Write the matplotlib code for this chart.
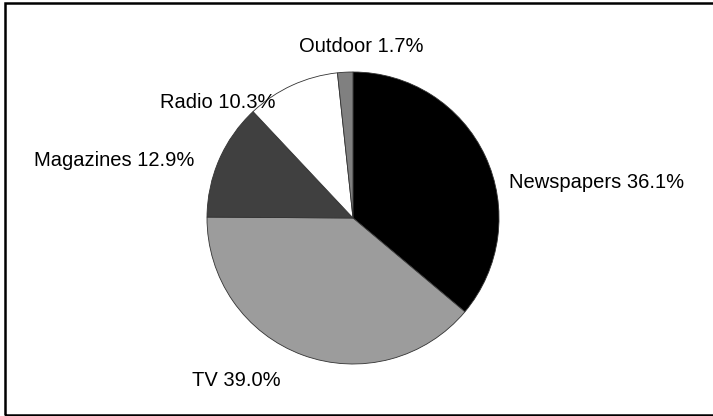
import matplotlib
matplotlib.use("Agg")
from matplotlib import pyplot as plt
from matplotlib.patches import Rectangle

plt.rcParams['font.family'] = ['Liberation Sans', 'DejaVu Sans']

media = ['Newspapers', 'TV', 'Magazines', 'Radio', 'Outdoor']
share = [36.1, 39.0, 12.9, 10.3, 1.7]
colors = ['#000000', '#9c9c9c', '#404040', '#ffffff', '#808080']

# where each label's left edge / vertical centre sits (pie radius = 1)
label_xy = [(1.068, 0.240), (-1.103, -1.110), (-2.185, 0.397),
            (-1.322, 0.788), (-0.370, 1.178)]

fig = plt.figure(figsize=(7.13, 4.16), dpi=100)
ax = fig.add_axes([0, 0, 1, 1])

ax.pie(share, colors=colors, startangle=90, counterclock=False,
       radius=1.0, wedgeprops=dict(edgecolor='#333333', linewidth=0.6))

for name, val, (x, y) in zip(media, share, label_xy):
    ax.text(x, y, f"{name} {val:.1f}%", ha='left', va='center',
            fontsize=14.5, color='black')

ax.set_xlim(-353 / 146, (713 - 353) / 146)
ax.set_ylim((218 - 416) / 146, 218 / 146)
ax.set_aspect('auto')
ax.axis('off')

# frame around the chart, open on the right
fig.patches.append(Rectangle((5 / 713, 1.2 / 416), 1.2, 412 / 416,
                             transform=fig.transFigure, fill=False,
                             edgecolor='black', linewidth=1.8))

fig.savefig("out.png", dpi=100)
